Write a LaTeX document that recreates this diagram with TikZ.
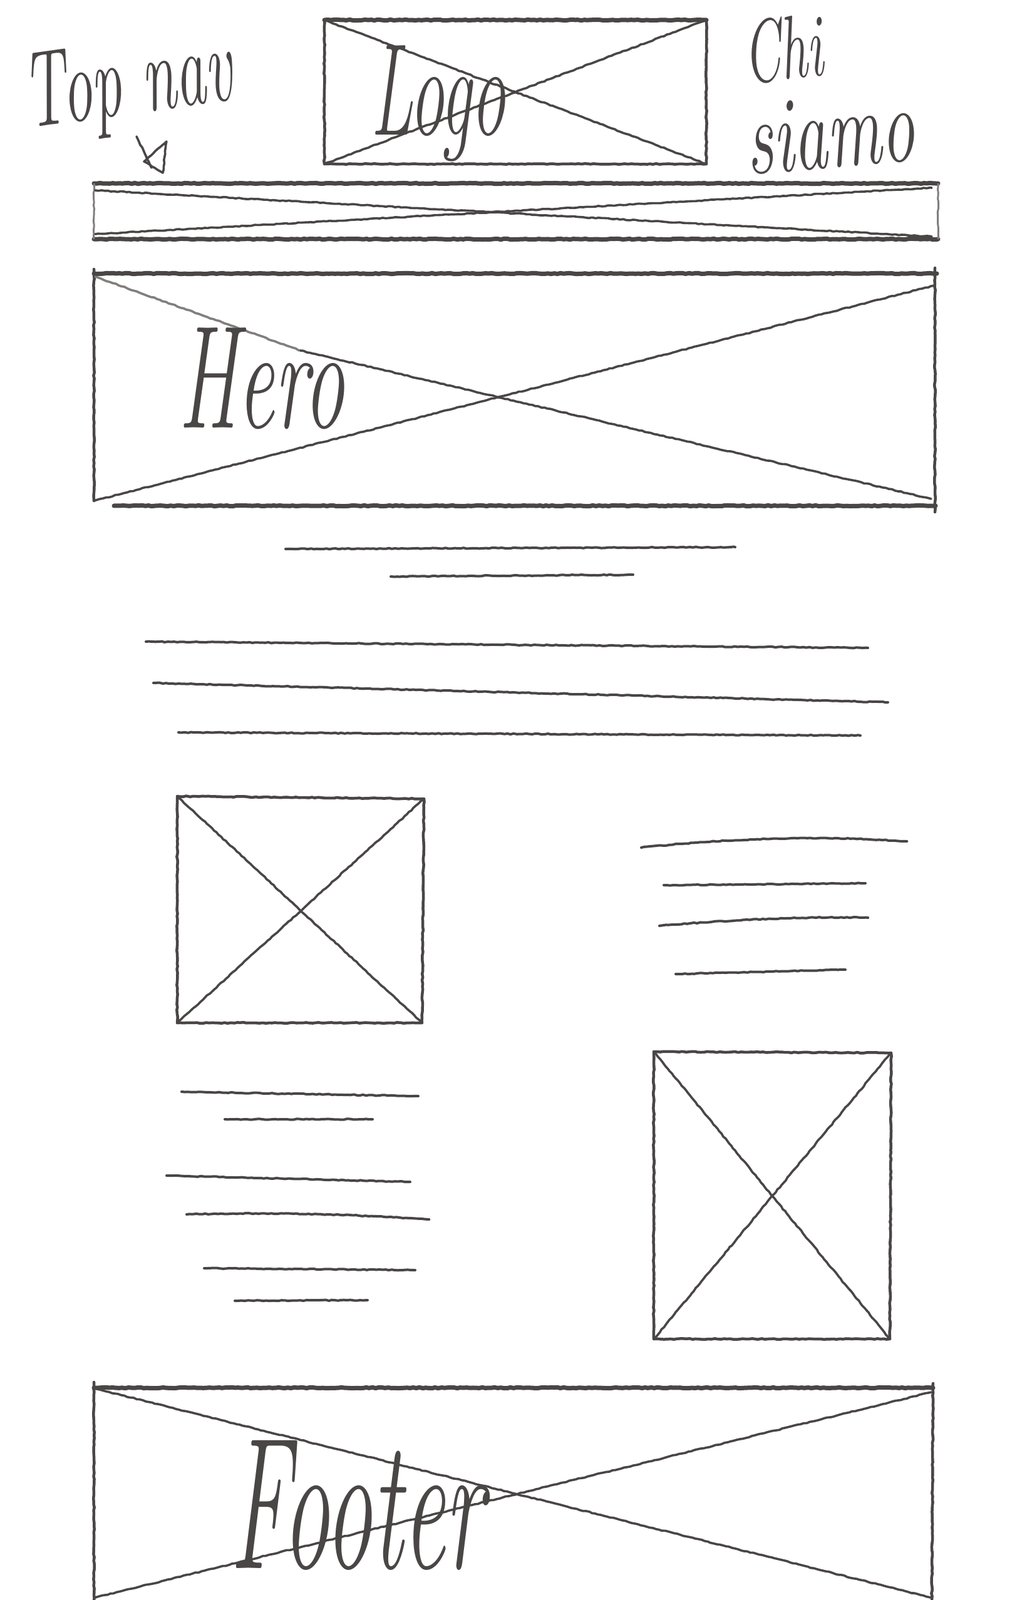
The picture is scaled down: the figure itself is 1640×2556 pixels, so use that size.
\documentclass[tikz,border=0pt]{standalone}
\usetikzlibrary{decorations.pathmorphing}
\definecolor{pencil}{RGB}{74,70,70}
\definecolor{pencillight}{RGB}{130,126,126}
\begin{document}
\begin{tikzpicture}[x=1pt,y=-1pt,
  rough/.style={decorate,decoration={random steps,segment length=5pt,amplitude=0.7pt}},
  edge/.style={draw=pencil,line width=4.5pt,line cap=round,line join=round,rough},
  heavy/.style={draw=pencil,line width=7pt,line cap=round,line join=round,rough},
  diag/.style={draw=pencil,line width=3.6pt,line cap=round,line join=round,rough},
  txtline/.style={draw=pencil,line width=4pt,line cap=round,line join=round,rough},
  hand/.style={text=pencil,inner sep=0pt}]
\useasboundingbox[fill=white] (0,0) rectangle (1640,2556);

% ---------- labels at the top ----------
\node[hand,rotate=8] (topnav) at (205,140)
  {\fontsize{96}{96}\selectfont\itshape\scalebox{1}[1.8]{Top nav}};
\coordinate (arA) at (218,218);
\coordinate (arB) at (242,268);
\draw[diag] (arA) -- (arB);
\draw[diag] (230,258) -- (266,226) -- (260,276) -- cycle;

\node[hand,rotate=6] (chi) at (1250,78)
  {\fontsize{84}{84}\selectfont\itshape\scalebox{1}[1.7]{Chi}};
\node[hand,rotate=5] (siamo) at (1325,212)
  {\fontsize{108}{108}\selectfont\itshape\scalebox{1}[1.6]{siamo}};

% ---------- logo box ----------
\coordinate (lg-tl) at (518,32);
\coordinate (lg-tr) at (1128,32);
\coordinate (lg-br) at (1128,262);
\coordinate (lg-bl) at (518,262);
\draw[heavy] (lg-tl) -- (lg-tr);
\draw[edge] (lg-tr) -- (lg-br) -- (lg-bl) -- (lg-tl);
\draw[diag] (lg-tl) -- (lg-br);
\draw[diag] (lg-bl) -- (lg-tr);
\node[hand] (logo) at (700,165)
  {\fontsize{110}{110}\selectfont\itshape\scalebox{1}[1.9]{Logo}};

% ---------- top nav bar ----------
\coordinate (nv-tl) at (150,293);
\coordinate (nv-tr) at (1498,293);
\coordinate (nv-br) at (1498,382);
\coordinate (nv-bl) at (150,382);
\draw[heavy] (nv-tl) -- (nv-tr);
\draw[heavy] (nv-bl) -- (nv-br);
\draw[draw=pencillight,line width=3pt,rough] (nv-tl) -- (nv-bl);
\draw[draw=pencillight,line width=3pt,rough] (nv-tr) -- (nv-br);
\draw[diag] (152,304) -- (1488,378);
\draw[diag] (152,374) -- (1488,300);

% ---------- hero ----------
\coordinate (hr-tl) at (150,437);
\coordinate (hr-tr) at (1496,437);
\coordinate (hr-br) at (1494,808);
\coordinate (hr-bl) at (150,800);
\draw[heavy] (hr-tl) -- (hr-tr);
\draw[heavy] (182,808) -- (hr-br);
\draw[edge] (150,430) -- (hr-bl);
\draw[edge] (1493,428) -- (1493,818);
\draw[draw=pencillight,line width=3.6pt,line cap=round,rough] (152,442) -- (480,560);
\draw[diag] (480,560) -- (1487,797);
\draw[diag] (hr-bl) -- (1492,456);
\node[hand] (hero) at (418,605)
  {\fontsize{130}{130}\selectfont\itshape\scalebox{1}[1.8]{Hero}};

% ---------- text lines under hero ----------
\draw[txtline] (456,877) -- (1174,874);
\draw[txtline] (624,921) -- (1011,918);
\draw[txtline] (233,1025) -- (1386,1035);
\draw[txtline] (245,1091) -- (1418,1122);
\draw[txtline] (285,1170) -- (1374,1175);

% ---------- image box 1 ----------
\coordinate (b1-tl) at (283,1272);
\coordinate (b1-tr) at (677,1276);
\coordinate (b1-br) at (674,1634);
\coordinate (b1-bl) at (283,1634);
\draw[edge] (b1-tl) -- (b1-tr) -- (b1-br) -- (b1-bl) -- cycle;
\draw[diag] (b1-tl) -- (b1-br);
\draw[diag] (b1-bl) -- (b1-tr);

% ---------- right text lines ----------
\draw[txtline] (1024,1354) .. controls (1200,1336) and (1330,1336) .. (1448,1344);
\draw[txtline] (1060,1414) -- (1382,1411);
\draw[txtline] (1053,1479) .. controls (1180,1468) and (1300,1464) .. (1386,1466);
\draw[txtline] (1079,1556) -- (1350,1549);

% ---------- left text lines ----------
\draw[txtline] (290,1744) -- (668,1751);
\draw[txtline] (359,1788) -- (595,1788);
\draw[txtline] (266,1878) -- (655,1888);
\draw[txtline] (298,1940) .. controls (450,1936) and (560,1940) .. (685,1948);
\draw[txtline] (326,2026) -- (663,2029);
\draw[txtline] (375,2078) -- (587,2077);

% ---------- image box 2 ----------
\coordinate (b2-tl) at (1044,1680);
\coordinate (b2-tr) at (1423,1682);
\coordinate (b2-br) at (1421,2139);
\coordinate (b2-bl) at (1044,2139);
\draw[edge] (b2-tl) -- (b2-tr) -- (b2-br) -- (b2-bl) -- cycle;
\draw[diag] (b2-tl) -- (b2-br);
\draw[diag] (b2-bl) -- (b2-tr);

% ---------- footer ----------
\coordinate (ft-tl) at (150,2217);
\coordinate (ft-tr) at (1490,2217);
\coordinate (ft-br) at (1488,2556);
\coordinate (ft-bl) at (150,2556);
\draw[heavy] (ft-tl) -- (ft-tr);
\draw[edge] (150,2208) -- (ft-bl);
\draw[edge] (1490,2210) -- (ft-br);
\draw[diag] (155,2219) -- (1486,2552);
\draw[diag] (152,2552) -- (1487,2224);
\node[hand] (footer) at (570,2405)
  {\fontsize{150}{150}\selectfont\itshape\scalebox{1}[2.0]{Footer}};
\end{tikzpicture}
\end{document}
